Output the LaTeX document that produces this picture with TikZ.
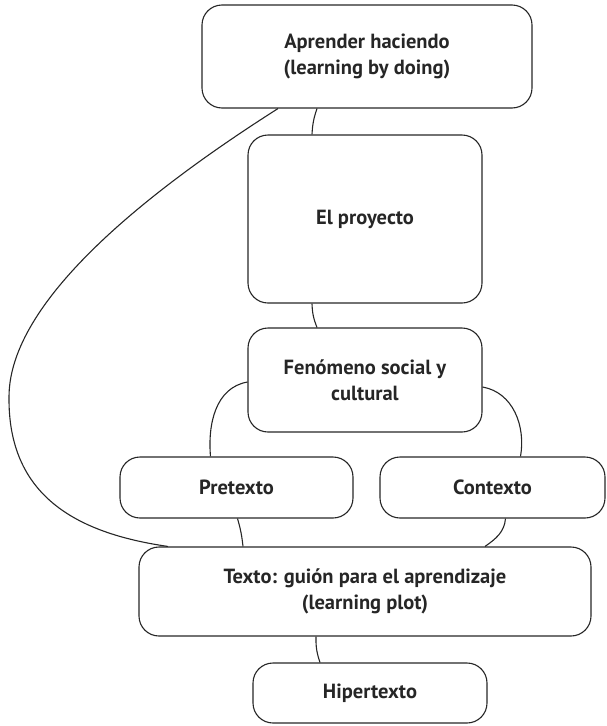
\documentclass[tikz,border=0pt]{standalone}
\usepackage{fontspec}
\setmainfont{PT Sans}
\usepackage{tikz}

\begin{document}
\begin{tikzpicture}[x=1pt,y=-1pt,line width=1.1pt,draw=black!85,
    box/.style={draw,rectangle,rounded corners=20pt,align=center,
      font=\bfseries\fontsize{20.5}{26}\selectfont,text=black!85,inner sep=0pt},
    link/.style={draw=black!85,line width=1.1pt}]
     \useasboundingbox (0,0) rectangle (606,726);
     \node[box,minimum width=330pt,minimum height=103pt] (learn) at (367,56.5)
      {Aprender haciendo\\(learning by doing)};
     \node[box,minimum width=234pt,minimum height=168pt] (proj) at (365,219) {El proyecto};
     \node[box,minimum width=234pt,minimum height=104pt] (fen) at (365,380)
      {Fenómeno social y\\cultural};
     \node[box,minimum width=233pt,minimum height=61pt] (pre) at (236.5,487.5) {Pretexto};
     \node[box,minimum width=225pt,minimum height=61pt] (con) at (492.5,487.5) {Contexto};
     \node[box,minimum width=452pt,minimum height=89pt] (texto) at (365,591.5)
      {Texto: guión para el aprendizaje\\(learning plot)};
     \node[box,minimum width=234pt,minimum height=60pt] (hiper) at (370,693) {Hipertexto};
     \coordinate (bulge) at (9,397);
     \draw[link] ([xshift=-50pt]learn.south) to[bend right=8] ([xshift=-53pt]proj.north)
      ([xshift=-53pt]proj.south) to[bend right=10] ([xshift=-48pt]fen.north)
      ([yshift=-2pt]fen.west) to[out=190,in=95] ([xshift=-26pt]pre.north)
      ([yshift=-7pt]fen.east) to[out=-10,in=80] ([xshift=28pt]con.north)
      ([xshift=1pt]pre.south) to[bend left=5] ([xshift=-122pt]texto.north)
      ([xshift=13pt]con.south) to[out=-95,in=35] ([xshift=120pt]texto.north)
      ([xshift=-49pt]texto.south) to[bend right=10] ([xshift=-50pt]hiper.north);
     \draw[link] ([xshift=-89pt]learn.south) .. controls (150,190) and (9,300) .. (bulge)
      .. controls (8,495) and (75,533) .. ([xshift=-197pt]texto.north);
    \end{tikzpicture}
\end{document}
